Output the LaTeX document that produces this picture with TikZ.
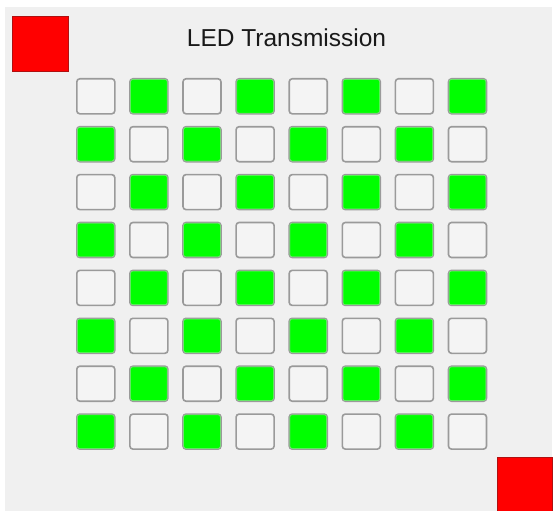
\documentclass[tikz,border=0pt]{standalone}
\usepackage{fontspec}
\setmainfont{Liberation Sans}
\definecolor{panelbg}{HTML}{F0F0F0}
\definecolor{ledon}{HTML}{00FF00}
\definecolor{ledoff}{HTML}{F4F4F4}
\definecolor{ledrim}{HTML}{9A9A9A}
\definecolor{redfill}{HTML}{FF0000}
\definecolor{redrim}{HTML}{B01010}
\begin{document}
\begin{tikzpicture}[x=1pt,y=-1pt,
  ledbase/.style={draw=ledrim,line width=1.6pt,rounded corners=3pt,minimum width=38pt,minimum height=35pt,inner sep=0pt,anchor=north west},
  ledgreen/.style={ledbase,fill=ledon},
  ledwhite/.style={ledbase,fill=ledoff},
  redbox/.style={draw=redrim,line width=1pt,fill=redfill,inner sep=0pt,anchor=north west},
  titletext/.style={font=\fontsize{24.5}{28}\selectfont,text=black!90,anchor=base}]
\useasboundingbox (0,0) rectangle (557,511);
\fill[white] (0,0) rectangle (557,511);
\fill[panelbg] (5,7) rectangle (552,511);
\node[titletext] (title) at (286.5,47) {LED Transmission};
\node[redbox,minimum width=56pt,minimum height=55pt] (redtl) at (12,16) {};
\node[redbox,minimum width=55pt,minimum height=55pt] (redbr) at (497,457) {};
\foreach \r in {0,...,7}{
  \foreach \c in {0,...,7}{
    \pgfmathtruncatemacro{\ledpar}{mod(\r+\c,2)}
    \pgfmathsetmacro{\xx}{76+53.1*\c}
    \pgfmathsetmacro{\yy}{78+47.9*\r}
    \ifnum\ledpar=1
      \node[ledgreen] (led-\r-\c) at (\xx,\yy) {};
      \draw[ledon!60!white,line width=0.5pt,rounded corners=2pt] ([shift={(1.5pt,-1.5pt)}]led-\r-\c.north west) rectangle ([shift={(-1.5pt,1.5pt)}]led-\r-\c.south east);
    \else
      \node[ledwhite] (led-\r-\c) at (\xx,\yy) {};
    \fi
  }
}
\end{tikzpicture}
\end{document}
